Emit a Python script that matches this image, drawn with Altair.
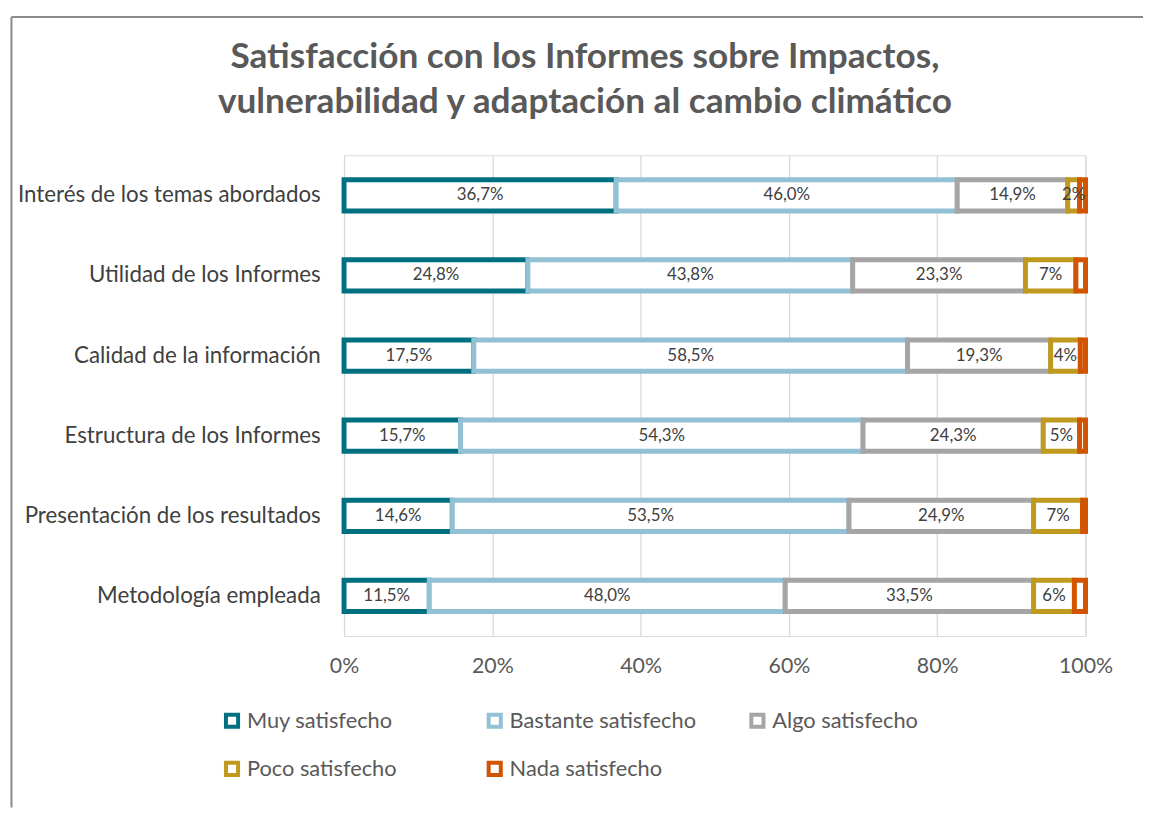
import altair as alt
import pandas as pd

items = [
    "Interés de los temas abordados\u00a0",
    "Utilidad de los Informes",
    "Calidad de la información",
    "Estructura de los Informes",
    "Presentación de los resultados",
    "Metodología empleada\u00a0",
]
categories = ["Muy satisfecho", "Bastante satisfecho", "Algo satisfecho",
              "Poco satisfecho", "Nada satisfecho"]
colors = ["#007080", "#92C0D4", "#A5A5A5", "#BF9A1E", "#D35400"]

muy = [36.7, 24.8, 17.5, 15.7, 14.6, 11.5]
bastante = [46.0, 43.8, 58.5, 54.3, 53.5, 48.0]
algo = [14.9, 23.3, 19.3, 24.3, 24.9, 33.5]
poco = [1.6, 6.8, 4.0, 4.9, 6.6, 5.5]
nada = [0.8, 1.3, 0.7, 0.8, 0.4, 1.5]

series = [muy, bastante, algo, poco, nada]

rows = []
for ci, (cat, vals) in enumerate(zip(categories, series)):
    for item, v in zip(items, vals):
        if ci < 3:
            lab = f"{v:.1f}".replace(".", ",") + "%"
        elif ci == 3:
            lab = f"{round(v)}%"
        else:
            lab = ""
        rows.append({"item": item, "cat": cat, "ord": ci, "v": v, "lab": lab})
df = pd.DataFrame(rows)

base = alt.Chart(df).transform_stack(
    stack="v", groupby=["item"], as_=["x0", "x1"], offset="normalize",
    sort=[alt.SortField("ord", order="ascending")]
).transform_calculate(xm="(datum.x0 + datum.x1) / 2")

yenc = alt.Y("item:N", sort=items, title=None,
             scale=alt.Scale(paddingInner=0.61, paddingOuter=0.305),
             axis=alt.Axis(labelFontSize=22.5, labelColor="#404040", labelFont="Lato",
                           labelPadding=24, ticks=False, domain=False, grid=False,
                           labelLimit=400))

bars = base.mark_bar(fill="white", strokeWidth=5).encode(
    x=alt.X("x0:Q", title=None,
            scale=alt.Scale(domain=[0, 1], nice=False),
            axis=alt.Axis(format=".0%", values=[0, 0.2, 0.4, 0.6, 0.8, 1.0],
                          grid=True, gridColor="#D9D9D9", gridWidth=1.3,
                          ticks=False, domain=False, labelFontSize=21.5,
                          labelFlush=False,
                          labelColor="#595959", labelFont="Lato", labelPadding=20)),
    x2="x1:Q",
    y=yenc,
    stroke=alt.Stroke("cat:N", sort=categories,
                      scale=alt.Scale(domain=categories, range=colors),
                      legend=alt.Legend(title=None, orient="none", legendX=-124,
                                        legendY=559, columns=3, direction="horizontal",
                                        symbolType="square", symbolSize=150,
                                        symbolStrokeWidth=4, symbolFillColor="white",
                                        labelFontSize=22, labelColor="#595959",
                                        labelFont="Lato", labelOffset=4,
                                        rowPadding=19, columnPadding=46,
                                        gridAlign="all", labelLimit=300)),
    order=alt.Order("ord:Q"),
)

texts = base.mark_text(fontSize=17, color="#404040", font="Lato").encode(
    x="xm:Q",
    y=alt.Y("item:N", sort=items),
    text="lab:N",
)

frame_df = pd.DataFrame({"k": [0]})
frame_top = alt.Chart(frame_df).mark_rule(color="#898989", strokeWidth=2).encode(
    x=alt.value(-335.5), x2=alt.value(806), y=alt.value(-139.5))
frame_left = alt.Chart(frame_df).mark_rule(color="#898989", strokeWidth=2).encode(
    x=alt.value(-335.5), y=alt.value(-139.5), y2=alt.value(658))

chart = alt.layer(frame_top, frame_left, bars, texts).properties(
    width=748, height=485,
    padding={"left": 2, "top": 4, "right": 0, "bottom": 3},
    title=alt.TitleParams(
        text=["Satisfacción con los Informes sobre Impactos,",
              "vulnerabilidad y adaptación al cambio climático"],
        fontSize=35.5, fontWeight="bold", color="#595959", font="Lato",
        anchor="middle", frame="group", lineHeight=45, offset=-105, dx=-131),
).configure_view(stroke=None).configure(background="white")

chart.save("out.html", embed_options={"renderer": "svg", "actions": False})
